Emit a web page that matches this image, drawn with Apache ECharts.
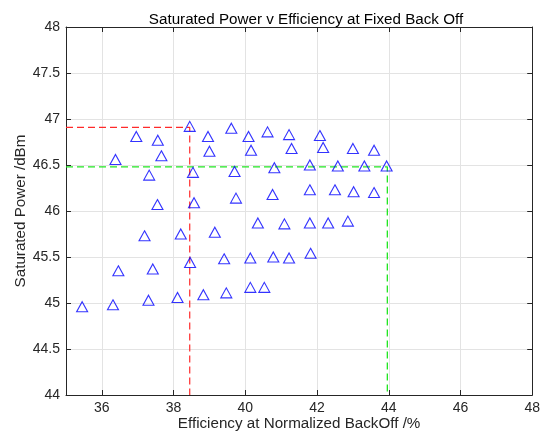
<!DOCTYPE html>
<html>
<head>
<meta charset="utf-8">
<script src="https://cdn.jsdelivr.net/npm/echarts@6/dist/echarts.min.js"></script>
<style>
html,body{margin:0;padding:0;background:#fff;}
#chart{width:543px;height:436px;}
</style>
</head>
<body>
<div id="chart"></div>
<script>
// Efficiency at normalized back-off (%)
const effValues = [
  36.38, 36.96, 37.56, 37.66, 37.32, 38.45, 38.96, 39.00, 38.54, 37.55,
  38.57, 37.19, 38.20, 39.15, 39.61, 40.09, 40.16, 40.62, 41.22, 41.29,
  42.08, 42.17, 43.00, 43.59, 39.70, 40.81, 41.80, 42.58, 43.32, 43.94,
  39.74, 40.76, 41.80, 42.50, 43.02, 43.59, 40.35, 41.09, 41.80, 42.31,
  42.86, 36.46, 37.42, 38.46, 35.45, 36.31, 37.30, 38.11, 38.83, 39.41,
  40.14, 40.78, 41.22, 41.82, 39.47, 40.14, 40.53
];
// Saturated power (dBm)
const powerValues = [
  46.56, 46.81, 46.77, 46.60, 46.39, 46.92, 46.81, 46.65, 46.42, 46.07,
  46.09, 45.73, 45.75, 45.77, 46.90, 46.81, 46.66, 46.86, 46.83, 46.68,
  46.82, 46.69, 46.68, 46.66, 46.43, 46.47, 46.50, 46.49, 46.49, 46.49,
  46.14, 46.18, 46.23, 46.23, 46.21, 46.20, 45.87, 45.86, 45.87, 45.87,
  45.89, 45.35, 45.37, 45.44, 44.96, 44.98, 45.03, 45.06, 45.09, 45.48,
  45.49, 45.50, 45.49, 45.54, 45.11, 45.17, 45.17
];
// Highlighted points: max power and max efficiency
const maxPowerPoint = [38.45, 46.91];
const maxEffPoint = [43.96, 46.48];
// Axis ranges
const xRange = [35, 48];
const yRange = [44, 48];
const yStep = 0.5;
const xTickLabels = [36, 38, 40, 42, 44, 46, 48];

const FONT = "'Liberation Sans', Arial, Helvetica, sans-serif";
const AX = '#262626';
const GRID = '#e3e3e3';

const scatterData = effValues.map((x, i) => [x, powerValues[i]]);
function guide(pt) {
  return [[xRange[0], pt[1]], [pt[0], pt[1]], [pt[0], yRange[0]]];
}

const chart = echarts.init(document.getElementById('chart'), null, {renderer: 'canvas'});
chart.setOption({
  animation: false,
  backgroundColor: '#fff',
  title: {
    text: 'Saturated Power v Efficiency at Fixed Back Off',
    left: 301, top: 7, textAlign: 'center',
    textStyle: {fontFamily: FONT, fontSize: 15.2, fontWeight: 'normal', color: '#000'}
  },
  grid: {left: 66, right: 7, top: 27, bottom: 38.5, containLabel: false},
  xAxis: [{
    type: 'value', min: xRange[0], max: xRange[1], splitNumber: 6,
    name: 'Efficiency at Normalized BackOff /%', nameLocation: 'middle', nameGap: 21,
    nameMoveOverlap: false,
    nameTextStyle: {fontFamily: FONT, fontSize: 15.2, color: AX},
    axisLine: {show: true, lineStyle: {color: AX, width: 1}},
    axisTick: {show: true, inside: true, length: 5, lineStyle: {color: AX}, customValues: xTickLabels},
    axisLabel: {show: true, fontFamily: FONT, fontSize: 14, color: AX, margin: 6, customValues: xTickLabels},
    splitLine: {show: true, lineStyle: {color: GRID, width: 1}}
  }, {
    type: 'value', position: 'top', min: xRange[0], max: xRange[1], splitNumber: 6,
    axisLine: {show: true, onZero: false, lineStyle: {color: AX, width: 1}},
    axisTick: {show: true, inside: true, length: 5, lineStyle: {color: AX}, customValues: xTickLabels},
    axisLabel: {show: false},
    splitLine: {show: false}
  }],
  yAxis: [{
    type: 'value', min: yRange[0], max: yRange[1], interval: yStep,
    name: 'Saturated Power /dBm', nameLocation: 'middle', nameGap: 38, nameRotate: 90,
    nameMoveOverlap: false,
    nameTextStyle: {fontFamily: FONT, fontSize: 15.2, color: AX},
    axisLine: {show: true, lineStyle: {color: AX, width: 1}},
    axisTick: {show: true, inside: true, length: 5, lineStyle: {color: AX}},
    axisLabel: {show: true, fontFamily: FONT, fontSize: 14, color: AX, margin: 6},
    splitLine: {show: true, lineStyle: {color: GRID, width: 1}}
  }, {
    type: 'value', position: 'right', min: yRange[0], max: yRange[1], interval: yStep,
    axisLine: {show: true, onZero: false, lineStyle: {color: AX, width: 1}},
    axisTick: {show: true, inside: true, length: 5, lineStyle: {color: AX}},
    axisLabel: {show: false},
    splitLine: {show: false}
  }],
  series: [{
    type: 'scatter',
    data: scatterData,
    symbol: 'triangle',
    symbolSize: [11, 10],
    itemStyle: {color: 'rgba(0,0,0,0)', borderColor: '#0000ff', borderWidth: 1.1},
    z: 3
  }, {
    type: 'line',
    data: guide(maxPowerPoint),
    showSymbol: false, symbol: 'none',
    lineStyle: {color: '#ff2a2a', width: 1.2, type: [7, 4]},
    z: 2
  }, {
    type: 'line',
    data: guide(maxEffPoint),
    showSymbol: false, symbol: 'none',
    lineStyle: {color: '#22e622', width: 1.3, type: [7, 4]},
    z: 2
  }]
});
</script>
</body>
</html>
